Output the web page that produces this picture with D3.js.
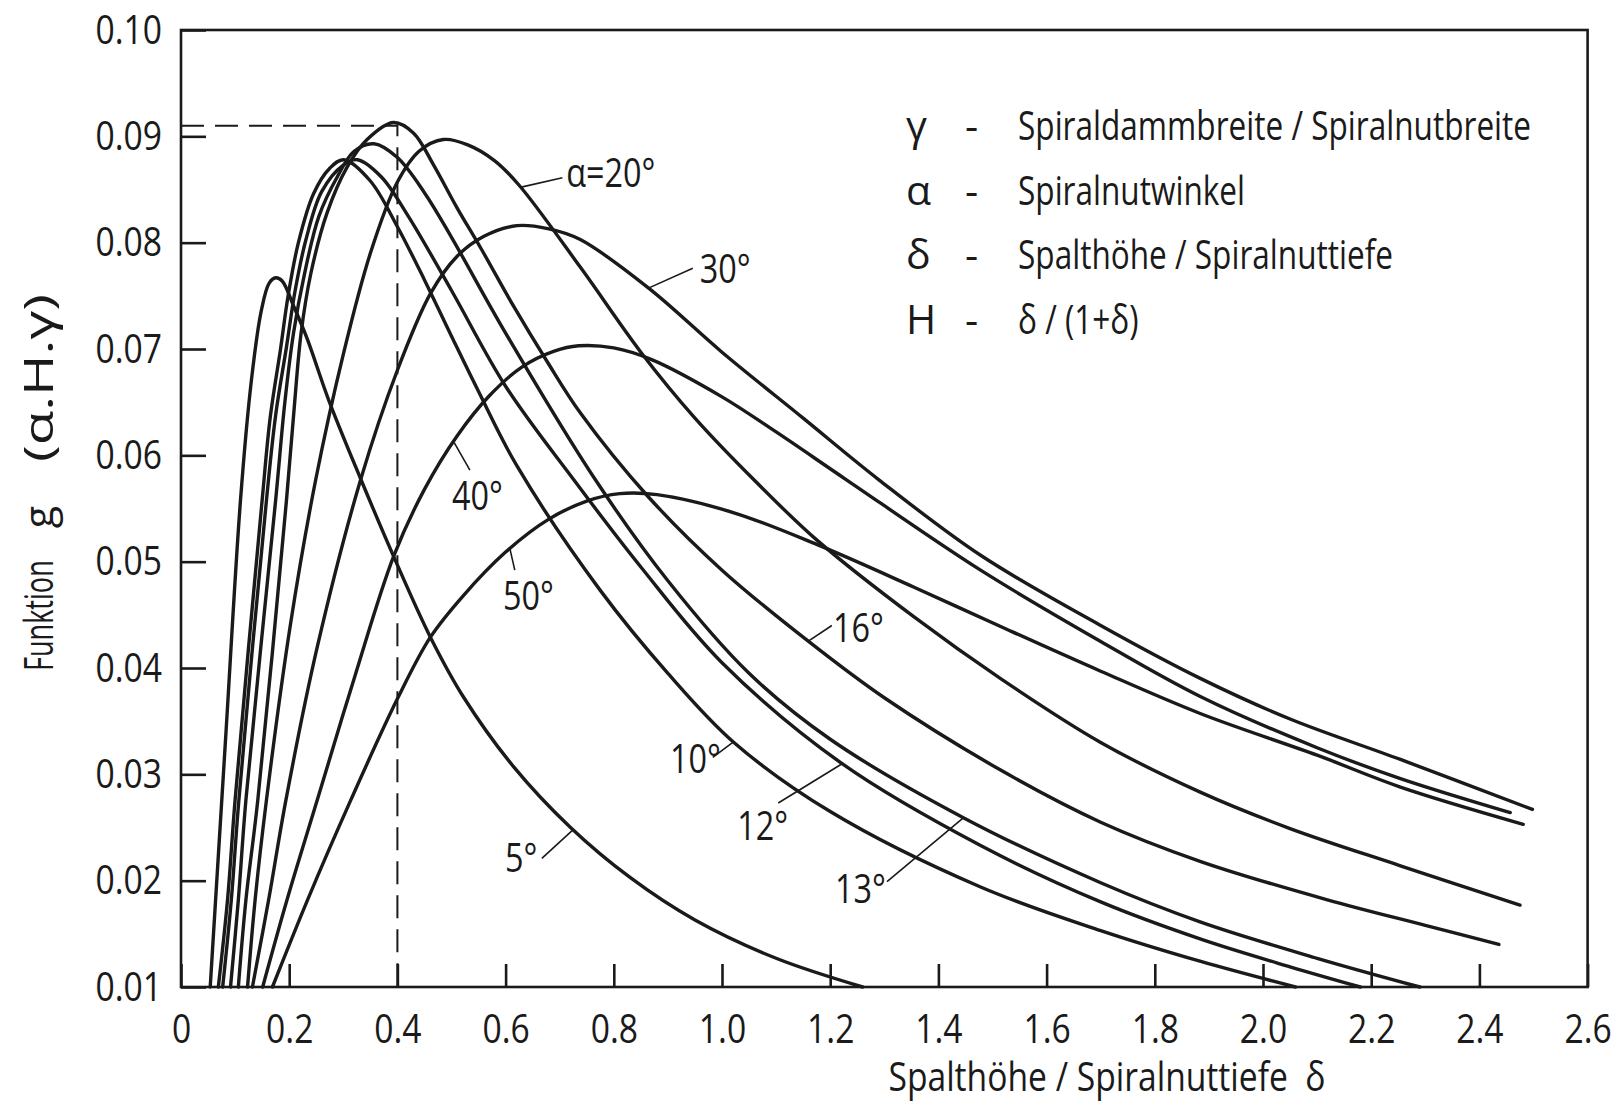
<!DOCTYPE html>
<html>
<head>
<meta charset="utf-8">
<script src="https://cdn.jsdelivr.net/npm/d3@7"></script>
<style>
  html, body { margin: 0; padding: 0; background: #fff; }
  svg { display: block; }
  text { fill: #1a1a1a; }
</style>
</head>
<body>
<div id="chart"></div>
<script>
// g(alpha, H, gamma), one array per groove angle: [delta, g]
const curve05 = [[0.054,0.0100],[0.082,0.0330],[0.110,0.0558],[0.130,0.0670],[0.148,0.0735],[0.163,0.0762],[0.175,0.0767],[0.187,0.0764],[0.2085,0.0740],[0.233,0.0710],[0.273,0.0652],[0.332,0.0578],[0.393,0.0505],[0.461,0.0429],[0.523,0.0372],[0.615,0.0307],[0.720,0.0250],[0.830,0.0203],[0.950,0.0163],[1.100,0.0127],[1.260,0.0100]];
const curve10 = [[0.069,0.0100],[0.086,0.0182],[0.100,0.0276],[0.150,0.0558],[0.165,0.0636],[0.184,0.0700],[0.198,0.0750],[0.217,0.0800],[0.245,0.0846],[0.275,0.0870],[0.301,0.0878],[0.350,0.0858],[0.400,0.0815],[0.450,0.0765],[0.500,0.0712],[0.550,0.0660],[0.621,0.0590],[0.775,0.0473],[0.900,0.0395],[1.022,0.0330],[1.200,0.0265],[1.478,0.0194],[1.700,0.0153],[1.885,0.0124],[2.060,0.0100]];
const curve12 = [[0.077,0.0100],[0.093,0.0182],[0.107,0.0276],[0.158,0.0558],[0.175,0.0638],[0.195,0.0702],[0.211,0.0755],[0.231,0.0803],[0.260,0.0848],[0.300,0.0873],[0.326,0.0878],[0.370,0.0862],[0.420,0.0825],[0.500,0.0755],[0.600,0.0665],[0.726,0.0577],[0.850,0.0495],[1.000,0.0405],[1.222,0.0310],[1.478,0.0233],[1.700,0.0180],[1.885,0.0145],[2.050,0.0119],[2.180,0.0100]];
const curve13 = [[0.0915,0.0100],[0.106,0.0182],[0.120,0.0276],[0.175,0.0558],[0.192,0.0650],[0.208,0.0715],[0.228,0.0770],[0.255,0.0825],[0.289,0.0862],[0.320,0.0886],[0.357,0.0893],[0.400,0.0880],[0.450,0.0847],[0.500,0.0805],[0.600,0.0715],[0.766,0.0577],[0.900,0.0482],[1.050,0.0395],[1.200,0.0333],[1.447,0.0259],[1.700,0.0198],[1.885,0.0161],[2.100,0.0127],[2.290,0.0100]];
const curve16 = [[0.106,0.0100],[0.120,0.0182],[0.142,0.0276],[0.195,0.0558],[0.2085,0.0640],[0.222,0.0715],[0.240,0.0771],[0.270,0.0828],[0.307,0.0871],[0.344,0.0897],[0.393,0.0913],[0.430,0.0903],[0.467,0.0873],[0.510,0.0833],[0.554,0.0795],[0.615,0.0740],[0.677,0.0688],[0.738,0.0640],[0.862,0.0562],[1.000,0.0492],[1.160,0.0425],[1.300,0.0372],[1.515,0.0304],[1.700,0.0255],[1.885,0.0218],[2.119,0.0182],[2.300,0.0158],[2.436,0.0140]];
const curve20 = [[0.123,0.0100],[0.137,0.0182],[0.158,0.0276],[0.202,0.0440],[0.249,0.0577],[0.300,0.0695],[0.350,0.0790],[0.400,0.0857],[0.440,0.0886],[0.485,0.0897],[0.530,0.0892],[0.580,0.0877],[0.625,0.0854],[0.738,0.0777],[0.850,0.0697],[0.950,0.0635],[1.059,0.0577],[1.176,0.0520],[1.355,0.0448],[1.515,0.0390],[1.700,0.0330],[1.885,0.0283],[2.050,0.0249],[2.254,0.0214],[2.475,0.0177]];
const curve30 = [[0.132,0.0100],[0.162,0.0182],[0.194,0.0276],[0.252,0.0420],[0.332,0.0577],[0.400,0.0680],[0.461,0.0752],[0.510,0.0787],[0.560,0.0806],[0.621,0.0816],[0.680,0.0813],[0.738,0.0803],[0.865,0.0757],[1.000,0.0697],[1.150,0.0635],[1.290,0.0577],[1.478,0.0506],[1.700,0.0440],[1.885,0.0390],[2.050,0.0352],[2.254,0.0314],[2.498,0.0267]];
const curve40 = [[0.151,0.0100],[0.196,0.0182],[0.252,0.0276],[0.320,0.0390],[0.393,0.0505],[0.450,0.0568],[0.510,0.0618],[0.570,0.0656],[0.630,0.0683],[0.690,0.0698],[0.735,0.0703],[0.800,0.0701],[0.870,0.0690],[1.000,0.0655],[1.100,0.0622],[1.230,0.0577],[1.478,0.0492],[1.700,0.0425],[1.885,0.0373],[2.100,0.0325],[2.254,0.0296],[2.457,0.0264]];
const curve50 = [[0.169,0.0100],[0.234,0.0182],[0.314,0.0276],[0.400,0.0371],[0.461,0.0429],[0.520,0.0467],[0.600,0.0509],[0.680,0.0540],[0.750,0.0557],[0.811,0.0564],[0.880,0.0563],[1.022,0.0546],[1.176,0.0516],[1.355,0.0476],[1.515,0.0439],[1.700,0.0397],[1.885,0.0357],[2.100,0.0318],[2.254,0.0288],[2.481,0.0253]];

const curves = [curve05, curve10, curve12, curve13, curve16, curve20, curve30, curve40, curve50];

// curve labels: text, text start [delta, g], leader from curve point to label point
const labelTexts  = ['5°', '10°', '12°', '13°', '16°', 'α=20°', '30°', '40°', '50°'];
const labelAt     = [[0.599,0.0208],[0.904,0.0301],[1.028,0.0238],[1.209,0.0179],[1.205,0.0424],[0.712,0.0852],[0.959,0.0762],[0.501,0.0549],[0.595,0.0455]];
const leaderFrom  = [[0.725,0.0248],[1.020,0.0330],[1.222,0.0310],[1.446,0.0259],[1.159,0.0425],[0.627,0.0852],[0.863,0.0757],[0.505,0.0612],[0.608,0.0512]];
const leaderTo    = [[0.667,0.0221],[0.983,0.0316],[1.104,0.0273],[1.305,0.0199],[1.203,0.0440],[0.705,0.0861],[0.946,0.0776],[0.534,0.0586],[0.617,0.0492]];

const marked = [0.4, 0.091];   // dashed guide to the maximum

const xTicks = d3.range(14).map(i => i / 5);
const yTicks = d3.range(1, 11).map(i => i / 100);

const legendSymbols = ['γ', 'α', 'δ', 'H'];
const legendTexts = ['Spiraldammbreite / Spiralnutbreite', 'Spiralnutwinkel', 'Spalthöhe / Spiralnuttiefe', 'δ / (1+δ)'];

const FONT = '"Open Sans", "DejaVu Sans", sans-serif';
const NARROW = 0.79;   // lettering in the drawing is condensed

const width = 1618, height = 1101;
const x = d3.scaleLinear().domain([0, 2.6]).range([181, 1587.6]);
const y = d3.scaleLinear().domain([0.01, 0.10]).range([987, 30]);

const svg = d3.select('#chart').append('svg')
    .attr('width', width)
    .attr('height', height)
    .style('font-family', FONT);

svg.append('rect').attr('width', width).attr('height', height).attr('fill', '#fff');

function condense(sel, k) {
  sel.each(function() {
    const w = this.getComputedTextLength();
    d3.select(this).attr('textLength', w * k).attr('lengthAdjust', 'spacingAndGlyphs');
  });
}

// frame
svg.append('rect')
    .attr('x', x(0)).attr('y', y(0.10))
    .attr('width', x(2.6) - x(0)).attr('height', y(0.01) - y(0.10))
    .attr('fill', 'none').attr('stroke', '#1a1a1a').attr('stroke-width', 2.6);

// axes, ticks pointing inwards
const yAxis = svg.append('g')
    .attr('transform', 'translate(' + x(0) + ',0)')
    .call(d3.axisLeft(y).tickValues(yTicks).tickSize(-25).tickPadding(19).tickFormat(d3.format('.2f')));
const xAxis = svg.append('g')
    .attr('transform', 'translate(0,' + y(0.01) + ')')
    .call(d3.axisBottom(x).tickValues(xTicks).tickSize(-23).tickPadding(27)
      .tickFormat(d => d === 0 ? '0' : d3.format('.1f')(d)));

[xAxis, yAxis].forEach(a => {
  a.select('.domain').remove();
  a.selectAll('.tick line').attr('stroke', '#1a1a1a').attr('stroke-width', 2.6);
  a.selectAll('.tick text').attr('fill', '#1a1a1a').style('font-family', FONT).style('font-size', '41px')
    .call(condense, 0.82);
});

// dashed guide lines
svg.append('path')
    .attr('d', 'M' + x(0) + ',' + y(marked[1]) + 'H' + x(marked[0]) + 'V' + y(0.01))
    .attr('fill', 'none').attr('stroke', '#1a1a1a').attr('stroke-width', 2)
    .attr('stroke-dasharray', '23,11');

// curves
const line = d3.line()
    .x(d => x(d[0]))
    .y(d => y(d[1]))
    .curve(d3.curveCatmullRom.alpha(0.5));

svg.selectAll('.curve')
    .data(curves)
  .enter().append('path')
    .attr('class', 'curve')
    .attr('d', line)
    .attr('fill', 'none')
    .attr('stroke', '#1a1a1a')
    .attr('stroke-width', 3.4)
    .attr('stroke-linecap', 'round');

// leaders and labels
svg.selectAll('.leader')
    .data(leaderFrom)
  .enter().append('line')
    .attr('class', 'leader')
    .attr('x1', d => x(d[0])).attr('y1', d => y(d[1]))
    .attr('x2', (d, i) => x(leaderTo[i][0])).attr('y2', (d, i) => y(leaderTo[i][1]))
    .attr('stroke', '#1a1a1a').attr('stroke-width', 1.6);

svg.selectAll('.clabel')
    .data(labelTexts)
  .enter().append('text')
    .attr('class', 'clabel')
    .attr('x', (d, i) => x(labelAt[i][0]))
    .attr('y', (d, i) => y(labelAt[i][1]))
    .style('font-size', '41px')
    .text(d => d)
    .call(condense, NARROW);

// legend
const legend = svg.append('g').style('font-size', '41px');
legendSymbols.forEach((s, i) => {
  const by = 140 + i * 64.5;
  legend.append('text').attr('x', 906).attr('y', by).text(s);
  legend.append('text').attr('x', 965).attr('y', by).text('-');
  legend.append('text').attr('x', 1018).attr('y', by).text(legendTexts[i]).call(condense, 0.77);
});

// axis titles
svg.append('text')
    .attr('x', 1107).attr('y', 1091)
    .attr('text-anchor', 'middle')
    .style('font-size', '41px')
    .style('white-space', 'pre')
    .text('Spalthöhe / Spiralnuttiefe  δ')
    .call(condense, 0.82);

const yTitle = svg.append('g').style('font-size', '41px');
yTitle.append('text')
    .attr('transform', 'translate(53,671) rotate(-90)')
    .text('Funktion')
    .call(condense, 0.66);
yTitle.append('text')
    .attr('transform', 'translate(53,517) rotate(-90)')
    .attr('text-anchor', 'middle')
    .text('g');
yTitle.append('text')
    .attr('transform', 'translate(53,294) rotate(-90)')
    .attr('text-anchor', 'end')
    .attr('textLength', 168)
    .attr('lengthAdjust', 'spacingAndGlyphs')
    .text('(α.H.γ)');
</script>
</body>
</html>
